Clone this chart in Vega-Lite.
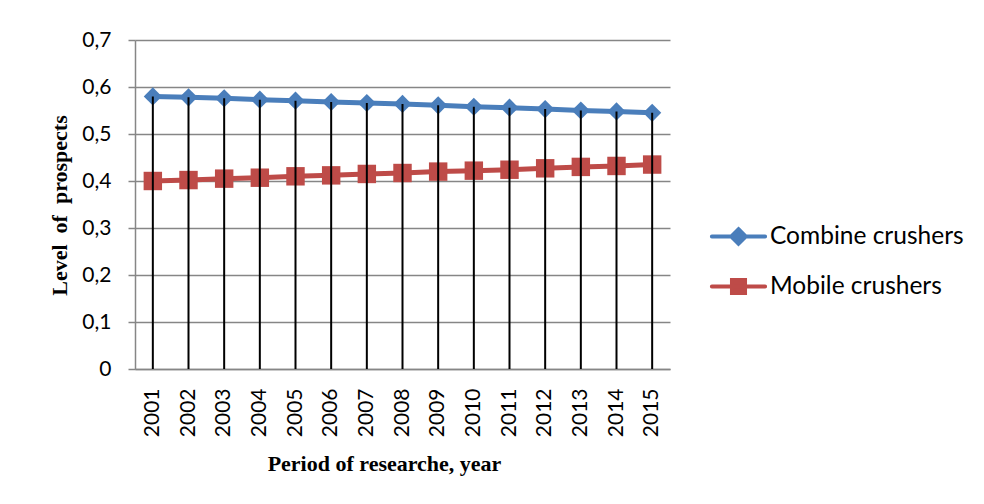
{
  "$schema": "https://vega.github.io/schema/vega-lite/v6.json",
  "autosize": "none",
  "padding": {"left": 135, "top": 40, "right": 314, "bottom": 135},
  "width": 535,
  "height": 329,
  "background": "white",
  "config": {"view": {"stroke": null}, "font": "Lato"},
  "data": {"values": [
    {"year": "2001", "series": "Combine crushers", "value": 0.580},
    {"year": "2002", "series": "Combine crushers", "value": 0.578},
    {"year": "2003", "series": "Combine crushers", "value": 0.576},
    {"year": "2004", "series": "Combine crushers", "value": 0.573},
    {"year": "2005", "series": "Combine crushers", "value": 0.571},
    {"year": "2006", "series": "Combine crushers", "value": 0.568},
    {"year": "2007", "series": "Combine crushers", "value": 0.566},
    {"year": "2008", "series": "Combine crushers", "value": 0.564},
    {"year": "2009", "series": "Combine crushers", "value": 0.561},
    {"year": "2010", "series": "Combine crushers", "value": 0.558},
    {"year": "2011", "series": "Combine crushers", "value": 0.556},
    {"year": "2012", "series": "Combine crushers", "value": 0.553},
    {"year": "2013", "series": "Combine crushers", "value": 0.550},
    {"year": "2014", "series": "Combine crushers", "value": 0.548},
    {"year": "2015", "series": "Combine crushers", "value": 0.545},
    {"year": "2001", "series": "Mobile crushers", "value": 0.400},
    {"year": "2002", "series": "Mobile crushers", "value": 0.402},
    {"year": "2003", "series": "Mobile crushers", "value": 0.405},
    {"year": "2004", "series": "Mobile crushers", "value": 0.407},
    {"year": "2005", "series": "Mobile crushers", "value": 0.410},
    {"year": "2006", "series": "Mobile crushers", "value": 0.412},
    {"year": "2007", "series": "Mobile crushers", "value": 0.415},
    {"year": "2008", "series": "Mobile crushers", "value": 0.417},
    {"year": "2009", "series": "Mobile crushers", "value": 0.420},
    {"year": "2010", "series": "Mobile crushers", "value": 0.422},
    {"year": "2011", "series": "Mobile crushers", "value": 0.424},
    {"year": "2012", "series": "Mobile crushers", "value": 0.427},
    {"year": "2013", "series": "Mobile crushers", "value": 0.430},
    {"year": "2014", "series": "Mobile crushers", "value": 0.432},
    {"year": "2015", "series": "Mobile crushers", "value": 0.435}
  ]},
  "encoding": {
    "x": {
      "field": "year", "type": "ordinal",
      "scale": {"paddingInner": 0, "paddingOuter": 0},
      "axis": {
        "title": "Period of researche, year",
        "titleFont": "Liberation Serif", "titleFontWeight": "bold", "titleFontSize": 22, "titleColor": "black",
        "titleX": 249, "titleY": 94, "titleBaseline": "middle",
        "labelAngle": -90, "labelAlign": "right", "labelBaseline": "middle",
        "labelFont": "Lato", "labelFontSize": 21, "labelColor": "black",
        "labelPadding": 19, "ticks": false,
        "domainColor": "#868686", "domainWidth": 1.5, "grid": false
      }
    },
    "y": {
      "field": "value", "type": "quantitative",
      "scale": {"domain": [0, 0.7], "nice": false},
      "axis": {
        "title": "Level \u00a0of \u00a0prospects",
        "titleFont": "Liberation Serif", "titleFontWeight": "bold", "titleFontSize": 22, "titleColor": "black",
        "titleX": -76, "titleY": 165, "titleAngle": -90, "titleAlign": "center", "titleBaseline": "middle",
        "values": [0, 0.1, 0.2, 0.3, 0.4, 0.5, 0.6, 0.7],
        "labelExpr": "datum.value == 0 ? '0' : replace(format(datum.value, '.1f'), '.', ',')",
        "labelFont": "Lato", "labelFontSize": 21, "labelColor": "black", "labelPadding": 17,
        "tickSize": 7, "tickColor": "#868686", "tickWidth": 1.5,
        "domainColor": "#868686", "domainWidth": 1.5,
        "grid": true, "gridColor": "#868686", "gridWidth": 1.5
      }
    }
  },
  "layer": [
    {
      "mark": {"type": "line", "strokeWidth": 5},
      "encoding": {
        "color": {"field": "series", "type": "nominal", "scale": {"domain": ["Combine crushers", "Mobile crushers"], "range": ["#4a7ebb", "#be4b48"]},
          "legend": {
            "title": null, "orient": "none", "legendX": 584, "legendY": 177,
            "direction": "vertical",
            "labelFont": "Lato", "labelFontSize": 24.5, "labelColor": "black", "labelLimit": 400,
            "labelOffset": 12, "rowPadding": 15,
            "symbolSize": 1180, "symbolStrokeWidth": 4,
            "encode": {"symbols": {"update": {
              "shape": {"signal": "datum.value === 'Combine crushers' ? 'M-1.55,0H1.55M0,-0.42L0.42,0L0,0.42L-0.42,0Z' : 'M-1.55,0H1.55M-0.38,-0.38H0.38V0.38H-0.38Z'"},
              "stroke": {"signal": "datum.value === 'Combine crushers' ? '#4a7ebb' : '#be4b48'"},
              "fill": {"signal": "datum.value === 'Combine crushers' ? '#4a7ebb' : '#be4b48'"},
              "strokeWidth": {"value": 4},
              "strokeCap": {"value": "round"},
              "size": {"value": 1180},
              "opacity": {"value": 1}
            }}}
          }
        }
      }
    },
    {
      "transform": [{"filter": "datum.series === 'Combine crushers'"}],
      "mark": {"type": "point", "filled": true, "opacity": 1, "size": 330, "shape": "diamond"},
      "encoding": {"color": {"field": "series", "type": "nominal"}}
    },
    {
      "transform": [{"filter": "datum.series === 'Mobile crushers'"}],
      "mark": {"type": "point", "filled": true, "opacity": 1, "size": 340, "shape": "square"},
      "encoding": {"color": {"field": "series", "type": "nominal"}}
    },
    {
      "transform": [{"filter": "datum.series === 'Combine crushers'"}],
      "mark": {"type": "rule", "color": "black", "strokeWidth": 2},
      "encoding": {"y2": {"datum": 0}}
    }
  ]
}
